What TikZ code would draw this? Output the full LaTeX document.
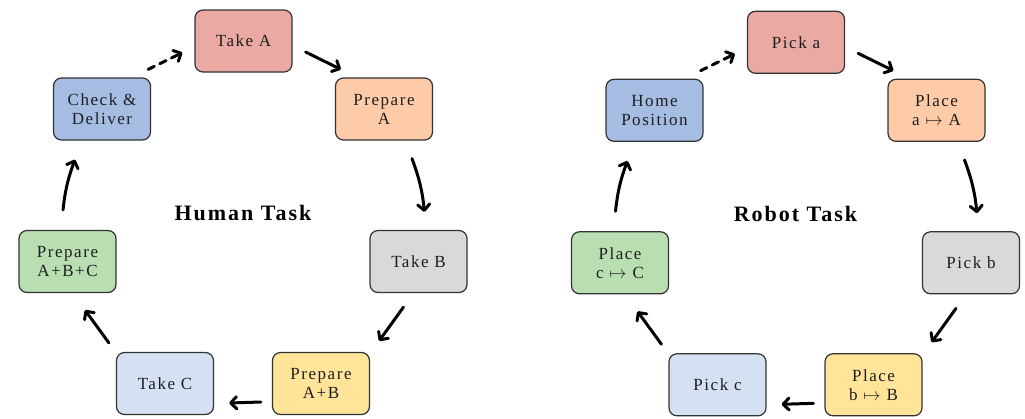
\documentclass[tikz,border=0pt]{standalone}
\usepackage{fontspec}
\setmainfont{Liberation Serif}[LetterSpace=9]
\usetikzlibrary{arrows.meta}
\definecolor{boxline}{HTML}{333333}
\definecolor{txt}{HTML}{1E1E1E}
\definecolor{cA}{HTML}{EAA9A2}
\definecolor{cB}{HTML}{FDCBA8}
\definecolor{cC}{HTML}{D9D9D9}
\definecolor{cD}{HTML}{FFE49A}
\definecolor{cE}{HTML}{D5E1F2}
\definecolor{cF}{HTML}{B8DEB2}
\definecolor{cG}{HTML}{A5BDE3}
\begin{document}
\begin{tikzpicture}[x=1pt,y=-1pt,
  box/.style={draw=boxline, line width=1.2pt, rounded corners=8pt,
    minimum width=97pt, minimum height=62pt, align=center, inner sep=0pt,
    text=txt, font=\fontsize{17}{19}\selectfont},
  flow/.style={line width=3pt, line cap=round, -{Straight Barb[round,length=6pt,width=12pt]}},
  title/.style={font=\fontsize{22}{24}\selectfont\bfseries, text=black}]
\useasboundingbox (0,0) rectangle (1025,418);

% ---------- Human task ----------
\node[box, fill=cA] (TA)   at (243.5,41)  {Take A};
\node[box, fill=cB] (PA)   at (384,109)   {Prepare\\A};
\node[box, fill=cC] (TB)   at (418.5,261.5) {Take B};
\node[box, fill=cD] (PAB)  at (321,383.5) {Prepare\\A+B};
\node[box, fill=cE] (TC)   at (165,383.5) {Take C};
\node[box, fill=cF] (PABC) at (67.5,261.5) {Prepare\\A+B+C};
\node[box, fill=cG] (CD)   at (102,109)   {Check \&\\Deliver};
\node[title] (HT) at (243,213) {Human Task};

\draw[flow, dash pattern=on 7pt off 6pt] ([shift={(-3,-8)}]CD.north east) -- ([shift={(-12,-20)}]TA.south west);
\draw[flow] ([shift={(13,11)}]TA.east) -- ([shift={(6,-8)}]PA.north west);
\draw[flow] ([shift={(28,18)}]PA.south) to[bend left=7] ([shift={(6,-18)}]TB.north);
\draw[flow] ([shift={(-15,14)}]TB.south) -- ([shift={(9,-11)}]PAB.north east);
\draw[flow] ([shift={(-11,18.5)}]PAB.west) -- ([shift={(15,19.5)}]TC.east);
\draw[flow] ([shift={(-7,-9)}]TC.north west) -- ([shift={(17.5,17)}]PABC.south);
\draw[flow] ([shift={(-4.5,-20)}]PABC.north) to[bend left=7] ([shift={(-27,19)}]CD.south);

% ---------- Robot task ----------
\begin{scope}[shift={(552.5,1.3)}]
\node[box, fill=cA] (Pa)  at (243.5,41)  {Pick a};
\node[box, fill=cB] (Qa)  at (384,109)   {Place\\a $\mapsto$ A};
\node[box, fill=cC] (Pb)  at (418.5,261.5) {Pick b};
\node[box, fill=cD] (Qb)  at (321,383.5) {Place\\b $\mapsto$ B};
\node[box, fill=cE] (Pc)  at (165,383.5) {Pick c};
\node[box, fill=cF] (Qc)  at (67.5,261.5) {Place\\c $\mapsto$ C};
\node[box, fill=cG] (HP)  at (102,109)   {Home\\Position};
\node[title] (RT) at (243,213) {Robot Task};
\end{scope}

\draw[flow, dash pattern=on 7pt off 6pt] ([shift={(-3,-8)}]HP.north east) -- ([shift={(-12,-20)}]Pa.south west);
\draw[flow] ([shift={(13,11)}]Pa.east) -- ([shift={(6,-8)}]Qa.north west);
\draw[flow] ([shift={(28,18)}]Qa.south) to[bend left=7] ([shift={(6,-18)}]Pb.north);
\draw[flow] ([shift={(-15,14)}]Pb.south) -- ([shift={(9,-11)}]Qb.north east);
\draw[flow] ([shift={(-11,18.5)}]Qb.west) -- ([shift={(15,19.5)}]Pc.east);
\draw[flow] ([shift={(-7,-9)}]Pc.north west) -- ([shift={(17.5,17)}]Qc.south);
\draw[flow] ([shift={(-4.5,-20)}]Qc.north) to[bend left=7] ([shift={(-27,19)}]HP.south);
\end{tikzpicture}
\end{document}
